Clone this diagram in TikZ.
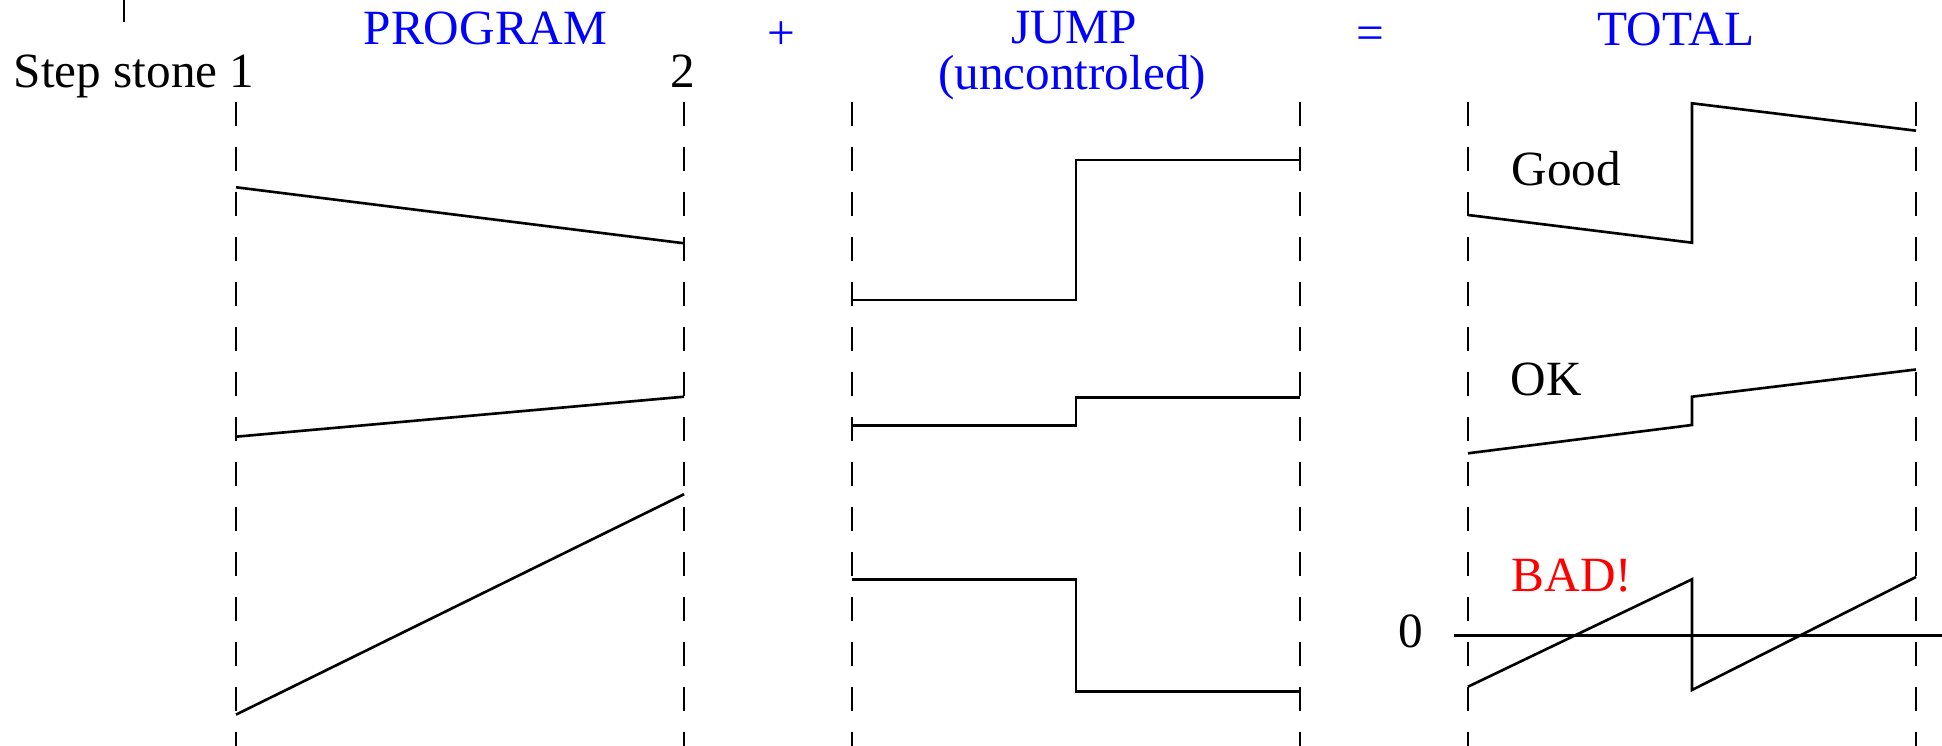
\documentclass[tikz,border=0pt]{standalone}
\usepackage{fontspec}
\setmainfont{Liberation Serif}
\definecolor{titleblue}{RGB}{0,0,255}
\definecolor{badred}{RGB}{255,0,0}
\tikzset{
  guide/.style={line width=0.75pt, dash pattern=on 0.243cm off 0.207cm, line cap=butt},
  curve/.style={line width=0.75pt, line join=miter},
  lbl/.style={inner sep=0pt, font=\fontsize{14}{16}\selectfont},
  ttl/.style={lbl, text=titleblue, anchor=base},
}
\begin{document}
\begin{tikzpicture}[x=0.01cm, y=-0.01cm]
\useasboundingbox (0,0) rectangle (1942,746);
% stray tick at top left
\draw[curve] (124,0) -- (124,22);
% dashed step-stone guides
\foreach \gx in {236,684,852,1300,1468,1916}
  \draw[guide] (\gx,101.7) -- (\gx,746);
% titles
\node[ttl] (tprog) at (485.5,45) {PROGRAM};
\node[ttl] (tplus) at (781,50) {+};
\node[ttl] (tjump) at (1074,44) {JUMP};
\node[ttl] (tunc) at (1072,90) {(uncontroled)};
\node[ttl] (teq) at (1370,50) {=};
\node[ttl] (ttot) at (1676,45.5) {TOTAL};
\node[lbl, anchor=base west] (sst) at (13,88) {Step stone 1};
\node[lbl, anchor=base] (s2) at (682.5,88) {2};
% PROGRAM column
\draw[curve] (236,187.3) -- (684,243.3);
\draw[curve] (236,436.7) -- (684,396.7);
\draw[curve] (236,714.6) -- (684,494.2);
% JUMP column
\draw[curve] (852,300) -- (1076,300) -- (1076,160) -- (1300,160);
\draw[curve] (852,425.7) -- (1076,425.7) -- (1076,397.3) -- (1300,397.3);
\draw[curve] (852,579.3) -- (1076,579.3) -- (1076,691.7) -- (1300,691.7);
% TOTAL column
\draw[curve] (1468,215) -- (1692,242.7) -- (1692,103.3) -- (1916,130.7);
\draw[curve] (1468,453.3) -- (1692,425) -- (1692,396.7) -- (1916,369.5);
\draw[curve] (1468,686.7) -- (1692,579.3) -- (1692,690) -- (1916,577);
\draw[curve] (1454,635.7) -- (1942,635.7);
\node[lbl, anchor=base west] (good) at (1511,186) {Good};
\node[lbl, anchor=base west] (ok) at (1510,395.7) {OK};
\node[lbl, anchor=base west, text=badred] (bad) at (1511,591.7) {BAD!};
\node[lbl, anchor=base] (zero) at (1410.6,647) {0};
\end{tikzpicture}
\end{document}
